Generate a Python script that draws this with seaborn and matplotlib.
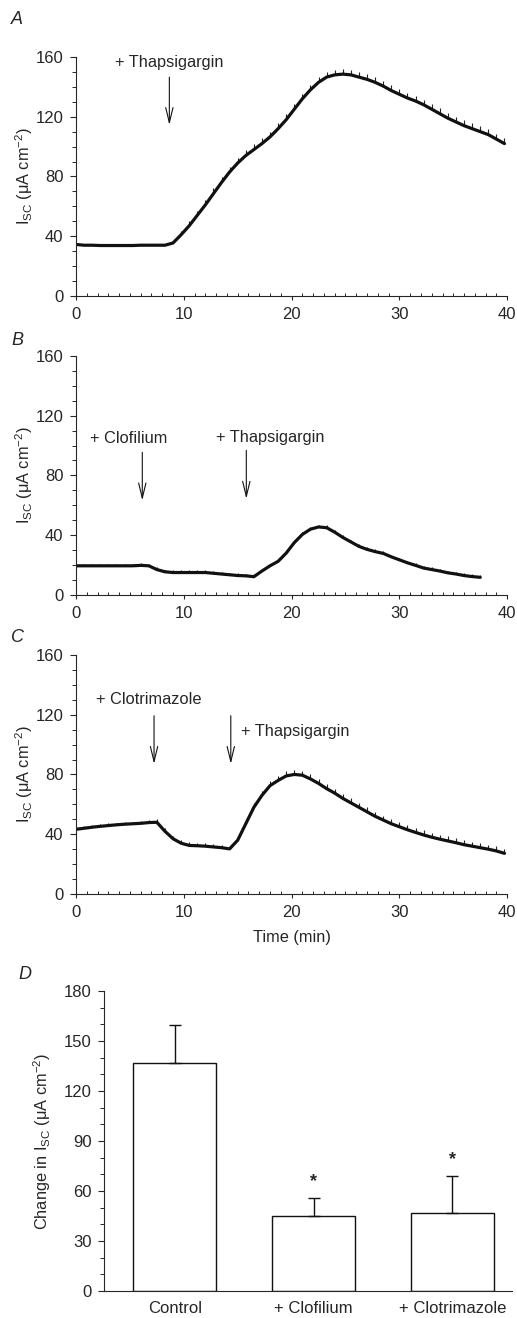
import numpy as np
import pandas as pd
import matplotlib
matplotlib.use("Agg")
import matplotlib.pyplot as plt
import seaborn as sns
from matplotlib.ticker import MultipleLocator

# ---------------- data ----------------
time_a = [0, 0.75, 1.5, 2.25, 3, 3.75, 4.5, 5.25, 6, 6.75, 7.5, 8.25, 9, 9.75, 10.5, 11.25,
          12, 12.75, 13.5, 14.25, 15, 15.75, 16.5, 17.25, 18, 18.75, 19.5, 20.25, 21, 21.75,
          22.5, 23.25, 24, 24.75, 25.5, 26.25, 27, 27.75, 28.5, 29.25, 30, 30.75, 31.5, 32.25,
          33, 33.75, 34.5, 35.25, 36, 36.75, 37.5, 38.25, 39, 39.75]
isc_a = [34.5, 34, 34, 33.8, 33.8, 33.8, 33.8, 33.8, 34, 34, 34, 34, 35.5, 41, 47, 54,
         61, 68.5, 76, 83, 89, 94, 98, 102, 106.5, 112, 118, 125, 132, 138,
         143, 146.5, 148, 148.5, 148, 146.5, 145, 143, 140.5, 137.5, 135, 132.5, 130.5, 128,
         125, 122, 119, 116.5, 114, 112, 110, 108, 105, 102]
err_a = [1, 1, 1, 1, 1, 1, 1, 1, 1, 1, 1, 1, 1.5, 2.5, 3, 3, 3.5, 3.5, 3.5, 3.5, 3.5, 3.5, 3.5,
         3.5, 3.5, 3.5, 3.5, 3.5, 3.5, 3.5, 3.5, 3.5, 3.5, 3.5, 3.5, 3.5, 3.5, 3.5, 3.5, 3.5,
         3.5, 3.5, 3.5, 3.5, 3.5, 3.5, 3.5, 3.5, 3.5, 3.5, 3.5, 3.5, 3.5, 3.5]

time_b = [0, 0.75, 1.5, 2.25, 3, 3.75, 4.5, 5.25, 6, 6.75, 7.5, 8.25, 9, 9.75, 10.5, 11.25,
          12, 12.75, 13.5, 14.25, 15, 15.75, 16.5, 17.25, 18, 18.75, 19.5, 20.25, 21, 21.75,
          22.5, 23.25, 24, 24.75, 25.5, 26.25, 27, 27.75, 28.5, 29.25, 30, 30.75, 31.5, 32.25,
          33, 33.75, 34.5, 35.25, 36, 36.75, 37.5]
isc_b = [19.5, 19.5, 19.5, 19.5, 19.5, 19.5, 19.5, 19.5, 19.8, 19.5, 17, 15.5, 15, 15, 15, 15,
         15, 14.5, 14, 13.5, 13, 12.8, 12.2, 16, 19.5, 22.5, 28, 35, 40.5, 44,
         45.5, 45, 42, 38.5, 35.5, 32.5, 30.5, 29, 27.8, 25.5, 23.5, 21.5, 19.8, 18,
         17, 16, 14.8, 14, 13, 12.3, 11.8]
err_b = [1.5] * 51

time_c = time_a
isc_c = [43.3, 44, 44.7, 45.3, 45.8, 46.3, 46.7, 47, 47.3, 47.8, 48, 42, 37, 34, 32.5, 32.3,
         32, 31.5, 31, 30.2, 36, 47, 58, 66, 72.5, 76, 79, 80, 79.5, 77,
         74, 70.5, 67.5, 64, 61, 58, 55, 52, 49.5, 47, 45, 43, 41.2, 39.5,
         38, 36.7, 35.5, 34.3, 33, 32, 31, 30, 28.8, 27.2]
err_c = [1.5, 1.5, 1.5, 1.5, 1.5, 1.5, 1.5, 1.5, 1.5, 1.5, 2, 2, 2, 2, 2, 2, 2, 2, 2, 2,
         2.5, 3, 3, 3, 3, 3, 3, 3, 3, 3, 3, 3, 3, 3, 3, 3, 3, 3, 3, 3, 3, 3, 3, 3,
         3, 3, 3, 3, 3, 3, 3, 3, 3, 3]

bar_labels = ["Control", "+ Clofilium", "+ Clotrimazole"]
bar_means = [137, 45, 46.5]
bar_sem = [22.5, 10.5, 22.5]
bar_sig = ["", "*", "*"]

# ---------------- style ----------------
sns.set_theme(style="ticks")
plt.rcParams["font.family"] = ["Liberation Sans", "DejaVu Sans"]
plt.rcParams["mathtext.fontset"] = "custom"
plt.rcParams["mathtext.rm"] = "Liberation Sans"
plt.rcParams["mathtext.it"] = "Liberation Sans:italic"
plt.rcParams["axes.linewidth"] = 0.8

TICK_FS = 12
LAB_FS = 11.8
ANN_FS = 11.8
ylab = r"I$_{\mathrm{SC}}$ ($\mathrm{\mu}$A cm$^{-2}$)"

fig = plt.figure(figsize=(5.17, 13.18), dpi=100)

def trace_axes(rect, t, v, e, annots, letter, letter_y, xlabel=None):
    ax = fig.add_axes(rect)
    ax.errorbar(t, v, yerr=[[0] * len(e), e], fmt="none", ecolor="#222222",
                elinewidth=0.8, capsize=0)
    sns.lineplot(x=t, y=v, ax=ax, color="#111111", lw=2.3)
    ax.set_xlim(0, 40)
    ax.set_ylim(0, 160)
    ax.set_yticks([0, 40, 80, 120, 160])
    ax.set_xticks([0, 10, 20, 30, 40])
    ax.yaxis.set_minor_locator(MultipleLocator(10))
    ax.xaxis.set_minor_locator(MultipleLocator(1))
    ax.tick_params(axis="y", which="major", direction="out", length=4, width=0.8,
                   labelsize=TICK_FS, pad=5)
    ax.tick_params(axis="y", which="minor", direction="out", length=3, width=0.7)
    ax.tick_params(axis="x", which="major", direction="out", length=3, width=0.8,
                   labelsize=TICK_FS, pad=5)
    ax.tick_params(axis="x", which="minor", direction="in", length=2, width=0.7)
    sns.despine(ax=ax)
    ax.set_ylabel(ylab, fontsize=LAB_FS)
    ax.yaxis.set_label_coords(-0.095, 0.5)
    if xlabel:
        ax.set_xlabel(xlabel, fontsize=LAB_FS, labelpad=7)
    else:
        ax.set_xlabel("")
    for (txt, tx, ty, ax_x, y0, y1) in annots:
        if txt:
            ax.text(tx, ty, txt, fontsize=ANN_FS, ha="left", va="center")
        if ax_x is not None:
            ax.annotate("", xy=(ax_x, y1), xytext=(ax_x, y0),
                        arrowprops=dict(arrowstyle="->,head_length=0.9,head_width=0.22",
                                        lw=0.8, color="#111111", shrinkA=0, shrinkB=0))
    fig.text(0.022, letter_y, letter, fontsize=13, style="italic", ha="left", va="center")
    return ax

H = 0.1814
W = 0.834
L = 0.147
trace_axes([L, 0.7754, W, H], time_a, isc_a, err_a,
           [("+ Thapsigargin", 3.6, 156, 8.66, 146.5, 114.5)], "A", 0.985)
trace_axes([L, 0.5486, W, H], time_b, isc_b, err_b,
           [("+ Clofilium", 1.3, 104.5, 6.15, 95.5, 63.3),
            ("+ Thapsigargin", 13.0, 105.5, 15.8, 96.7, 64.4)], "B", 0.742)
trace_axes([L, 0.3217, W, H], time_c, isc_c, err_c,
           [("+ Clotrimazole", 1.86, 130.4, 7.24, 119.3, 87.1),
            ("", 0, 0, 14.36, 119.3, 87.1),
            ("+ Thapsigargin", 15.3, 108.7, None, 0, 0)], "C", 0.516,
           xlabel="Time (min)")

# ---------------- panel D ----------------
axd = fig.add_axes([0.2012, 0.0205, 0.789, 0.2276])
dfd = pd.DataFrame({"group": bar_labels, "mean": bar_means})
sns.barplot(data=dfd, x="group", y="mean", ax=axd, color="white", edgecolor="#111111",
            linewidth=1.0, width=0.6, saturation=1)
xs = np.arange(len(bar_labels))
axd.errorbar(xs, bar_means, yerr=[[0] * len(bar_sem), bar_sem], fmt="none",
             ecolor="#111111", elinewidth=1.0, capsize=4, capthick=1.0)
for x, m, s, sig in zip(xs, bar_means, bar_sem, bar_sig):
    if sig:
        axd.text(x, m + s + 10, sig, ha="center", va="center", fontsize=13, fontweight="bold")
axd.set_xlim(-0.51, 2.43)
axd.set_ylim(0, 180)
axd.set_yticks([0, 30, 60, 90, 120, 150, 180])
axd.yaxis.set_minor_locator(MultipleLocator(10))
axd.tick_params(axis="y", which="major", direction="out", length=4, width=0.8,
                labelsize=TICK_FS, pad=5)
axd.tick_params(axis="y", which="minor", direction="out", length=3, width=0.7)
axd.tick_params(axis="x", which="major", length=0, labelsize=TICK_FS, pad=7)
sns.despine(ax=axd)
axd.set_xlabel("")
axd.set_ylabel(r"Change in I$_{\mathrm{SC}}$ ($\mathrm{\mu}$A cm$^{-2}$)", fontsize=LAB_FS)
axd.yaxis.set_label_coords(-0.125, 0.5)
fig.text(0.035, 0.2603, "D", fontsize=13, style="italic", ha="left", va="center")

fig.savefig("out.png", dpi=100)
